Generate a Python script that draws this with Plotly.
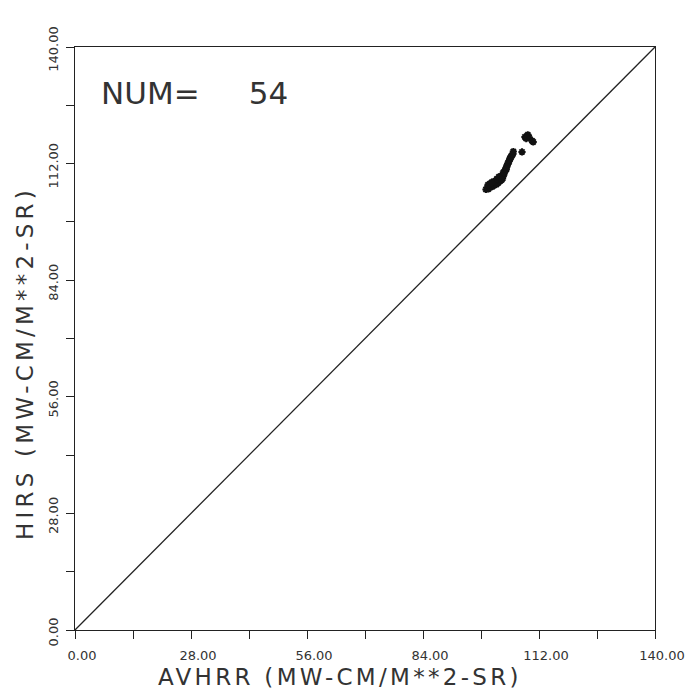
import plotly.graph_objects as go

# ---- data ----
avhrr = [99.2, 99.5, 99.8, 100.0, 100.3, 100.5, 100.8, 101.0, 101.2, 101.5,
         101.7, 102.0, 102.2, 102.4, 102.6, 102.8, 103.0, 103.2, 103.3, 103.5,
         103.6, 103.8, 103.9, 104.0, 104.2, 104.3, 104.5, 104.6, 104.8, 104.9,
         105.0, 105.2, 105.3, 105.5, 105.7, 100.2, 101.0, 101.8, 102.6, 103.4,
         104.1, 99.7, 100.6, 102.3, 105.8, 107.9, 108.6, 108.9, 109.3, 109.6,
         110.3, 110.6, 109.0, 103.0]
hirs = [105.8, 106.2, 105.9, 106.5, 106.3, 106.8, 106.5, 107.0, 106.8, 107.3,
        107.0, 107.6, 107.4, 108.0, 107.8, 108.3, 108.6, 108.4, 109.0, 109.3,
        109.8, 110.2, 110.5, 110.9, 111.2, 111.6, 111.9, 112.3, 112.6, 112.9,
        113.2, 113.5, 113.8, 114.0, 114.3, 107.2, 107.7, 108.3, 108.9, 109.9,
        110.6, 106.9, 107.5, 108.8, 114.9, 114.8, 118.4, 118.0, 118.9, 118.3,
        117.5, 117.2, 118.2, 108.1]

axis_range = [0, 140]
tick_vals = [0, 14, 28, 42, 56, 70, 84, 98, 112, 126, 140]
tick_text = ["0.00", "", "28.00", "", "56.00", "", "84.00", "", "112.00", "", "140.00"]
x_title = "AVHRR (MW-CM/M**2-SR)"
y_title = "HIRS (MW-CM/M**2-SR)"
num_label = "NUM=     " + str(len(avhrr))

FONT = "DejaVu Sans"
INK = "#333333"

fig = go.Figure()
# 1:1 reference line across the full axis range
fig.add_trace(go.Scatter(x=axis_range, y=axis_range, mode="lines",
                         line=dict(color="#222", width=1.3), hoverinfo="skip",
                         showlegend=False))
fig.add_trace(go.Scatter(x=avhrr, y=hirs, mode="markers",
                         marker=dict(symbol="asterisk-open", size=6, color="#111",
                                     line=dict(color="#111", width=2)),
                         showlegend=False))

axis_common = dict(range=axis_range, tickmode="array", tickvals=tick_vals,
                   ticktext=tick_text, ticks="outside", ticklen=8, tickwidth=1.2,
                   tickcolor="#222", showline=True, linecolor="#222", linewidth=1.3,
                   mirror=True, showgrid=False, zeroline=False,
                   tickfont=dict(family=FONT, size=13, color=INK))
fig.update_xaxes(**axis_common, ticklabelshift=7, ticklabelstandoff=5)
fig.update_yaxes(**axis_common, tickangle=-90, ticklabelshift=4, ticklabelstandoff=3)

def spaced(t, px):
    return '<span style="letter-spacing:%gpx">%s</span>' % (px, t)

fig.add_annotation(text=spaced(x_title, 3.3), xref="paper", yref="paper",
                   x=0.457, y=-0.0806, xanchor="center", yanchor="middle",
                   showarrow=False, font=dict(family=FONT, size=23, color=INK))
fig.add_annotation(text=spaced(y_title, 4.2), xref="paper", yref="paper",
                   x=-0.0862, y=0.458, xanchor="center", yanchor="middle",
                   textangle=-90, showarrow=False,
                   font=dict(family=FONT, size=23, color=INK))
fig.add_annotation(text=num_label, xref="paper", yref="paper",
                   x=0.0414, y=0.921, xanchor="left", yanchor="middle",
                   showarrow=False, font=dict(family=FONT, size=31, color=INK))

fig.update_layout(width=696, height=693, plot_bgcolor="white", paper_bgcolor="white",
                  margin=dict(l=67, r=49, t=39, b=71))
fig.write_html("out.html")
